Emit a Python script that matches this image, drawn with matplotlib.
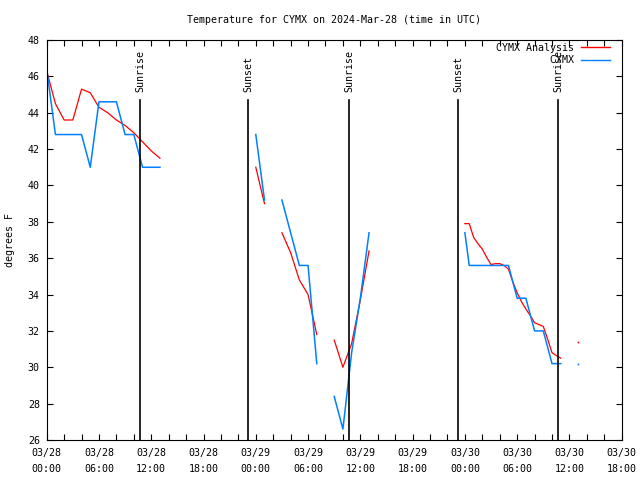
# Temperature for CYMX, analysis vs observations (gnuplot-style look)

import numpy as np
import matplotlib
matplotlib.use('Agg')
import matplotlib.pyplot as plt
from matplotlib.ticker import MultipleLocator

nan = np.nan

# hours since 2024-03-28 00:00 UTC, nan breaks the line
analysis_hours = [0, 1, 2, 3, 4, 5, 6, 7, 8, 9, 10, 11, 12, 13, nan,
                  24, 25, nan,
                  27, 28, 29, 30, 31, nan,
                  33, 34, 35, 36, 37, nan,
                  48, 48.5, 49, 49.5, 50, 50.5, 51, 51.5, 52, 52.5, 53, 53.5,
                  54, 54.5, 55, 55.5, 56, 56.5, 57, 57.5, 58, 58.5, 59, nan,
                  61]
analysis_temp = [46.3, 44.5, 43.6, 43.6, 45.3, 45.1, 44.3, 44.0, 43.6, 43.3, 42.9, 42.4, 41.9, 41.5, nan,
                 41.0, 39.0, nan,
                 37.4, 36.3, 34.8, 34.0, 31.8, nan,
                 31.5, 30.0, 31.3, 33.7, 36.4, nan,
                 37.9, 37.9, 37.15, 36.8, 36.5, 36.05, 35.65, 35.7, 35.7, 35.6, 35.4, 34.7,
                 34.1, 33.6, 33.2, 32.85, 32.45, 32.35, 32.25, 31.55, 30.8, 30.65, 30.5, nan,
                 31.4]

obs_hours = [0, 1, 2, 3, 4, 5, 6, 7, 8, 9, 10, 11, 12, 13, nan,
             24, 25, nan,
             27, 28, 29, 30, 31, nan,
             33, 34, 35, 36, 37, nan,
             48, 48.5, 49, 50, 51, 52, 53, 54, 55, 56, 57, 58, 59, nan,
             61]
obs_temp = [46.4, 42.8, 42.8, 42.8, 42.8, 41.0, 44.6, 44.6, 44.6, 42.8, 42.8, 41.0, 41.0, 41.0, nan,
            42.8, 39.2, nan,
            39.2, 37.4, 35.6, 35.6, 30.2, nan,
            28.4, 26.6, 30.8, 33.8, 37.4, nan,
            37.4, 35.6, 35.6, 35.6, 35.6, 35.6, 35.6, 33.8, 33.8, 32.0, 32.0, 30.2, 30.2, nan,
            30.2]

sun_hours = [10.75, 23.1, 34.7, 47.2, 58.7]
sun_names = ['Sunrise', 'Sunset', 'Sunrise', 'Sunset', 'Sunrise']

xtick_hours = [0, 6, 12, 18, 24, 30, 36, 42, 48, 54, 60, 66]
xtick_labels = ['03/28\n00:00', '03/28\n06:00', '03/28\n12:00', '03/28\n18:00',
                '03/29\n00:00', '03/29\n06:00', '03/29\n12:00', '03/29\n18:00',
                '03/30\n00:00', '03/30\n06:00', '03/30\n12:00', '03/30\n18:00']

plt.rcParams['font.family'] = ['DejaVu Sans Mono']
plt.rcParams['font.size'] = 7.2


def isolated(values):
    """Points with no neighbour on either side (a line would not show them)."""
    v = np.asarray(values, dtype=float)
    ok = np.isfinite(v)
    left = np.r_[False, ok[:-1]]
    right = np.r_[ok[1:], False]
    return ok & ~left & ~right


fig = plt.figure(figsize=(6.4, 4.8), dpi=100)
ax = fig.add_axes([46.7 / 640, 40 / 480, 575 / 640, 400 / 480])

red = '#ff0000'
blue = '#0080ff'

# monospace font: pad labels so they line up on the right, as gnuplot does
l1, = ax.plot(analysis_hours, analysis_temp, color=red, lw=0.9, label=f"{'CYMX Analysis':>13}")
l2, = ax.plot(obs_hours, obs_temp, color=blue, lw=1.1, label=f"{'CYMX':>13}")

for hrs, tmp, c in [(analysis_hours, analysis_temp, red), (obs_hours, obs_temp, blue)]:
    m = isolated(tmp)
    ax.plot(np.asarray(hrs)[m], np.asarray(tmp)[m], ls='none', marker='s',
            ms=1.2, mec='none', color=c)

# sunrise / sunset markers
for h, name in zip(sun_hours, sun_names):
    ax.plot([h, h], [26, 44.7], color='black', lw=1.2)
    ax.text(h, 45.15, name, rotation=90, ha='center', va='bottom')

ax.set_xlim(0, 66)
ax.set_ylim(26, 48)
ax.set_xticks(xtick_hours)
ax.set_xticklabels(xtick_labels, linespacing=1.7)
ax.xaxis.set_minor_locator(MultipleLocator(2))
ax.set_yticks(np.arange(26, 49, 2))
ax.tick_params(which='both', direction='in', length=4, width=0.8,
               top=True, right=True, colors='black')
ax.tick_params(axis='x', which='major', pad=6)
ax.tick_params(axis='y', which='major', pad=5)
for s in ax.spines.values():
    s.set_linewidth(0.8)

ax.set_ylabel('degrees F')
ax.yaxis.set_label_coords(-0.055, 0.5)
fig.text(334 / 640, 1 - 20 / 480, 'Temperature for CYMX on 2024-Mar-28 (time in UTC)',
         ha='center', va='center')

leg = ax.legend(handles=[l1, l2], loc='upper right', bbox_to_anchor=(0.98, 0.993),
                frameon=False, markerfirst=False, borderpad=0, borderaxespad=0,
                handlelength=2.9, handletextpad=0.7, labelspacing=0.25)
for lh in leg.get_lines():
    lh.set_linewidth(1.0)

fig.savefig('out.png', dpi=100)
